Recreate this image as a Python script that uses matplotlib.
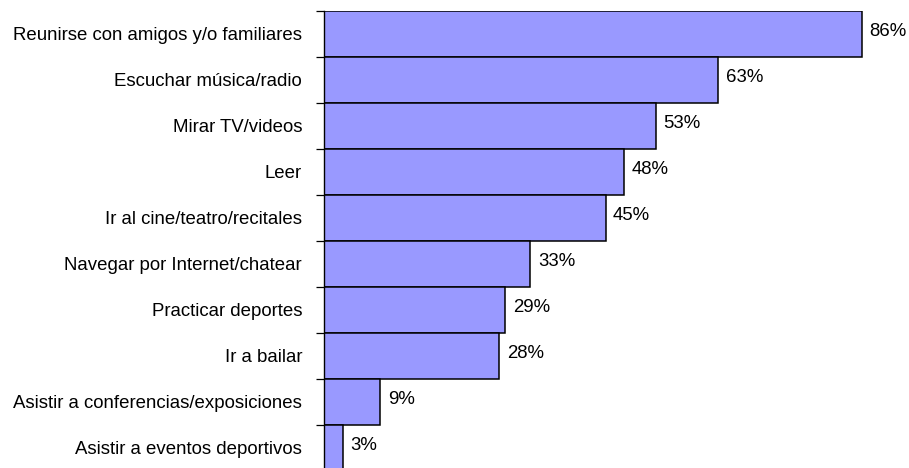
import matplotlib
matplotlib.use("Agg")
import matplotlib.pyplot as plt
import matplotlib.ticker as mticker
import numpy as np

plt.rcParams["font.family"] = ["Liberation Sans", "DejaVu Sans"]

# activities, top to bottom
activities = [
    "Reunirse con amigos y/o familiares",
    "Escuchar música/radio",
    "Mirar TV/videos",
    "Leer",
    "Ir al cine/teatro/recitales",
    "Navegar por Internet/chatear",
    "Practicar deportes",
    "Ir a bailar",
    "Asistir a conferencias/exposiciones",
    "Asistir a eventos deportivos",
]
percent = [86, 63, 53, 48, 45, 33, 29, 28, 9, 3]

FS = 13.4
W, H = 909, 468
fig = plt.figure(figsize=(W / 100, H / 100), dpi=100)
# axes box in pixels: left edge at 324, bars from y=10.7 down to 470.7
x0, xw = 324, 90 * 6.256
ytop, ybot = 10.7, 470.7
ax = fig.add_axes([x0 / W, 1 - ybot / H, xw / W, (ybot - ytop) / H])

ypos = np.arange(len(activities))
ax.barh(ypos, percent, height=1.0, color="#9999FF", edgecolor="black", linewidth=1.1)

ax.set_xlim(0, 90)
ax.set_ylim(len(activities) - 0.5, -0.5)

for y, v in zip(ypos, percent):
    ax.text(v + 1.2, y - 0.04, "%d%%" % v, va="center", ha="left", fontsize=FS, clip_on=False)

ax.set_yticks(ypos)
ax.set_yticklabels(activities, fontsize=FS)
# tick marks sit on the bar boundaries, labels at bar centres
ax.yaxis.set_minor_locator(mticker.FixedLocator(np.arange(-0.5, len(activities), 1.0)))
ax.tick_params(axis="y", which="major", length=0, pad=15.8)
ax.tick_params(axis="y", which="minor", length=6, width=0.9, color="black")
ax.set_xticks([])

for s in ["top", "right", "bottom"]:
    ax.spines[s].set_visible(False)
ax.spines["left"].set_linewidth(1.0)

fig.savefig("out.png", dpi=100)
